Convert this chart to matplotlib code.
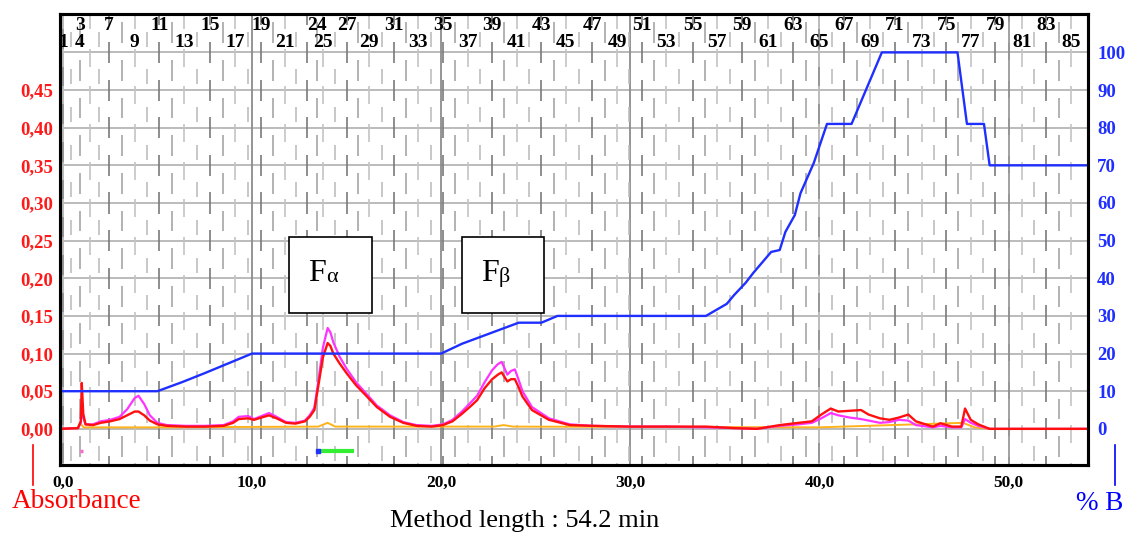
import numpy as np
import matplotlib
matplotlib.use("Agg")
import matplotlib.pyplot as plt
from matplotlib.collections import LineCollection
from matplotlib.patches import Rectangle
from matplotlib.lines import Line2D

plt.rcParams["font.family"] = ["Liberation Serif", "DejaVu Serif"]

W, H = 1130, 539
XMIN, XMAX = -0.15, 54.2
YMIN, YMAX = -0.048, 0.551

# UV traces, time in min, absorbance in AU
t_uv = [-0.15, 0.80, 0.95, 1.00, 1.08, 1.20, 1.6, 2.0, 2.5, 3.0, 3.4, 3.8, 4.0, 4.3, 4.6,
        5.0, 5.5, 6.5, 7.5, 8.5, 9.0, 9.3, 9.8, 10.1, 10.5, 10.9, 11.3, 11.8, 12.3, 12.8,
        13.05, 13.3, 13.5, 13.75, 14.0, 14.15, 14.3, 14.63, 15.0, 15.5, 16.0, 16.6, 17.3,
        18.0, 18.7, 19.5, 20.1, 20.6, 21.1, 21.6, 21.9, 22.3, 22.7, 23.0, 23.2, 23.5, 23.7,
        23.9, 24.1, 24.3, 24.8, 25.7, 26.8, 28.0, 30.0, 32.0, 34.0, 35.5, 36.7, 37.9, 38.9,
        39.6, 40.1, 40.6, 41.0, 41.6, 42.2, 42.6, 43.2, 43.7, 44.2, 44.7, 45.1, 46.0, 46.4,
        47.0, 47.5, 47.7, 48.0, 48.4, 49.0, 54.2]
red_uv = [0.000, 0.001, 0.010, 0.061, 0.020, 0.006, 0.005, 0.008, 0.010, 0.013, 0.018, 0.023,
          0.023, 0.018, 0.011, 0.006, 0.004, 0.003, 0.003, 0.004, 0.008, 0.013, 0.014, 0.012,
          0.015, 0.018, 0.014, 0.008, 0.007, 0.010, 0.016, 0.025, 0.056, 0.095, 0.114, 0.110,
          0.100, 0.087, 0.074, 0.058, 0.045, 0.029, 0.016, 0.008, 0.004, 0.003, 0.005, 0.010,
          0.020, 0.031, 0.038, 0.054, 0.066, 0.072, 0.075, 0.063, 0.066, 0.066, 0.055, 0.043,
          0.025, 0.012, 0.005, 0.004, 0.003, 0.003, 0.003, 0.001, 0.000, 0.005, 0.008, 0.010,
          0.019, 0.027, 0.023, 0.024, 0.025, 0.019, 0.014, 0.012, 0.015, 0.019, 0.010, 0.003,
          0.0075, 0.003, 0.003, 0.027, 0.012, 0.006, 0.000, 0.000]
pink_uv = [0.000, 0.001, 0.008, 0.030, 0.015, 0.006, 0.006, 0.010, 0.012, 0.016, 0.026, 0.041,
           0.044, 0.033, 0.018, 0.008, 0.005, 0.004, 0.004, 0.005, 0.010, 0.016, 0.017, 0.013,
           0.017, 0.021, 0.016, 0.009, 0.008, 0.011, 0.018, 0.028, 0.062, 0.108, 0.134, 0.128,
           0.115, 0.096, 0.080, 0.062, 0.048, 0.031, 0.018, 0.009, 0.005, 0.004, 0.006, 0.012,
           0.023, 0.036, 0.044, 0.062, 0.078, 0.086, 0.089, 0.072, 0.077, 0.079, 0.065, 0.050,
           0.029, 0.014, 0.006, 0.004, 0.003, 0.003, 0.002, 0.001, 0.000, 0.004, 0.006, 0.008,
           0.014, 0.021, 0.018, 0.015, 0.013, 0.011, 0.008, 0.009, 0.012, 0.011, 0.005, 0.002,
           0.004, 0.002, 0.002, 0.013, 0.008, 0.004, 0.000, 0.000]
t_or = [-0.15, 0.8, 0.9, 1.1, 5.0, 13.5, 14.0, 14.4, 22.8, 23.3, 23.8, 40.0, 47.6, 48.2, 49.0, 54.2]
orange_uv = [0.000, 0.001, 0.008, 0.002, 0.002, 0.003, 0.008, 0.003, 0.003, 0.005, 0.003,
             0.002, 0.008, 0.002, 0.000, 0.000]

# gradient, %B
t_b = [-0.15, 5.0, 6.3, 7.5, 10.0, 20.0, 21.1, 24.1, 25.3, 26.15, 34.0, 35.1, 35.5, 36.1,
       36.5, 37.45, 37.9, 38.2, 38.7, 39.0, 39.7, 40.4, 41.7, 42.5, 43.3, 47.3, 47.8, 48.7,
       49.0, 54.2]
pct_b = [10, 10, 12.4, 14.8, 20, 20, 22.6, 28.2, 28.2, 30, 30, 33.2, 35.6, 38.8, 41.4, 47,
         47.5, 52.3, 56.8, 62.6, 70.6, 81, 81, 90.5, 100, 100, 81, 81, 70, 70]

# labelled fractions
frac_num = [1, 3, 4, 7, 9, 11, 13, 15, 17, 19, 21, 24, 25, 27, 29, 31, 33, 35, 37, 39, 41,
            43, 45, 47, 49, 51, 53, 55, 57, 59, 61, 63, 65, 67, 69, 71, 73, 75, 77, 79, 81,
            83, 85]
frac_t = [0.0, 0.9, 0.9, 2.45, 3.8, 5.1, 6.4, 7.8, 9.1, 10.5, 11.75, 13.45, 13.75, 15.0,
          16.2, 17.5, 18.8, 20.1, 21.4, 22.7, 24.0, 25.3, 26.6, 28.0, 29.3, 30.6, 31.9, 33.3,
          34.6, 35.9, 37.3, 38.6, 40.0, 41.3, 42.7, 44.0, 45.4, 46.7, 48.0, 49.3, 50.7, 52.0,
          53.3]

# fraction collection marks
inject_t = [0.9, 1.05]
collect_t = [13.47, 15.37]


def main():
    fig = plt.figure(figsize=(W / 100, H / 100), dpi=100)
    ax = fig.add_axes([60 / W, 1 - 465 / H, (1088 - 60) / W, (465 - 14) / H])
    ax.set_xlim(XMIN, XMAX)
    ax.set_ylim(YMIN, YMAX)

    # grid: horizontal every 0.05, major vertical every 10 min
    for y in np.arange(0.0, 0.501, 0.05):
        ax.axhline(y, color="#a8a8a8", lw=1.1, zorder=1)
    for x in range(0, 60, 10):
        ax.axvline(x, color="#8c8c8c", lw=1.3, zorder=1)

    # fraction marks: dashed columns, phase repeats every 4 fractions
    ticks = []
    for i in range(len(frac_num) - 1):
        n0, n1 = frac_num[i], frac_num[i + 1]
        t0, t1 = frac_t[i], frac_t[i + 1]
        for k in range(max(n1 - n0, 1)):
            if k == 0 and n1 == n0 + 1 and t1 == t0:
                continue
            ticks.append((n0 + k, t0 + (t1 - t0) * k / max(n1 - n0, 1)))
    ticks.append((frac_num[-1], frac_t[-1]))
    phases = {2: (0.45, 0.85, "#bdbdbd"), 3: (-0.28, 0.28, "#7a7a7a"),
              0: (0.20, 0.75, "#a6a6a6"), 1: (-0.10, 0.38, "#c4c4c4")}
    segs, cols = [], []
    for n, t in ticks:
        a, b, c = phases[n % 4]
        for top in np.arange(-0.05, 0.651, 0.05):
            segs.append([(t, top - a * 0.05), (t, top - b * 0.05)])
            cols.append(c)
    ax.add_collection(LineCollection(segs, colors=cols, linewidths=1.2, zorder=1.5))

    # fraction labels in the top band
    for j, (n, t) in enumerate(zip(frac_num, frac_t)):
        upper = j % 2 == 1
        ax.text(t, 0.536 if upper else 0.5137, str(n), ha="center", va="center",
                fontsize=14, fontweight="bold", color="black", clip_on=True, zorder=4)

    # UV traces
    ax.plot(t_or, orange_uv, color="#ffb31a", lw=1.4, zorder=3)
    ax.plot(t_uv, pink_uv, color="#ff33ff", lw=1.6, zorder=3.1)
    ax.plot(t_uv, red_uv, color="#ff1010", lw=1.7, zorder=3.2)

    # injection / collection marks
    ax.plot(inject_t, [-0.029, -0.029], color="#ff66cc", lw=2.5, solid_capstyle="butt", zorder=3)
    ax.plot(collect_t, [-0.029, -0.029], color="#33ee33", lw=3.0, solid_capstyle="butt", zorder=3)
    ax.plot([collect_t[0]], [-0.029], "s", color="#2233ff", ms=3, zorder=3.5)

    # peak boxes
    for x0, x1, sub, fx in [(11.94, 16.32, "\u03b1", 12.95), (21.13, 25.46, "\u03b2", 22.09)]:
        ax.add_patch(Rectangle((x0, 0.154), x1 - x0, 0.101, facecolor="white",
                               edgecolor="black", lw=1.2, zorder=5))
        ax.text(fx, 0.1964, "F", fontsize=23, ha="left", va="baseline", zorder=6)
        ax.text(fx + 0.95, 0.1955, sub, fontsize=16, ha="left", va="baseline", zorder=6)

    # %B on the right axis
    ax2 = ax.twinx()
    ax2.set_ylim(YMIN * 200, YMAX * 200)
    ax2.plot(t_b, pct_b, color="#1f2fff", lw=1.7, zorder=4)

    # ticks and labels
    yt = np.arange(0.0, 0.451, 0.05)
    ax.set_yticks(yt)
    ax.set_yticklabels([f"{v:.2f}".replace(".", ",") for v in yt])
    ax.tick_params(axis="y", length=0, pad=5, labelsize=13.5, labelcolor="#ff1a1a")
    for lab in ax.get_yticklabels():
        lab.set_fontweight("bold")
    xt = np.arange(0, 51, 10)
    ax.set_xticks(xt)
    ax.set_xticklabels([f"{v:.1f}".replace(".", ",") for v in xt])
    ax.tick_params(axis="x", length=0, pad=7, labelsize=12.5)
    for lab in ax.get_xticklabels():
        lab.set_fontweight("bold")
    ax2.set_yticks(range(0, 101, 10))
    ax2.tick_params(axis="y", length=0, pad=6.5, labelsize=13.5, labelcolor="#1f2fff")
    for lab in ax2.get_yticklabels():
        lab.set_fontweight("bold")

    for a in (ax, ax2):
        for s in a.spines.values():
            s.set_color("black")
            s.set_linewidth(2.2)
            s.set_zorder(10)

    # outside annotations
    fig.text(12 / W, 1 - 501 / H, "Absorbance", color="#ff0000", fontsize=19.5,
             ha="left", va="center")
    fig.add_artist(Line2D([33 / W, 33 / W], [1 - 445 / H, 1 - 485 / H], color="#ff0000", lw=1.2))
    fig.text(1100 / W, 1 - 504 / H, "% B", color="#0000ff", fontsize=19.5,
             ha="center", va="center")
    fig.add_artist(Line2D([1115 / W, 1115 / W], [1 - 445 / H, 1 - 485 / H], color="#0000ff", lw=1.2))
    fig.text(525 / W, 1 - 521 / H, "Method length : 54.2 min", color="black", fontsize=19,
             ha="center", va="center")

    fig.savefig("out.png", dpi=100)
    plt.close(fig)


if __name__ == "__main__":
    main()
